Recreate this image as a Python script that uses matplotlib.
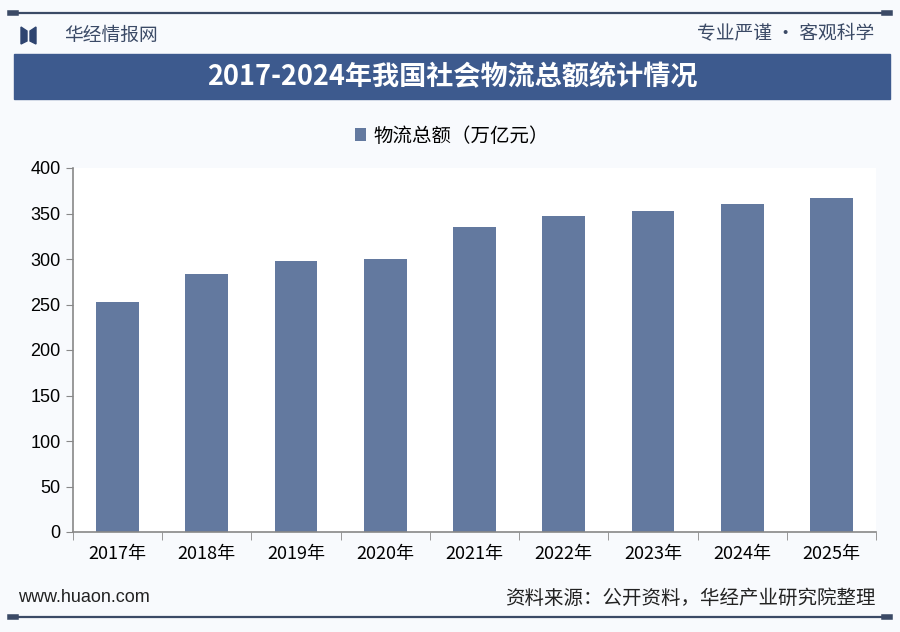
import matplotlib.pyplot as plt
from matplotlib.patches import Rectangle, Polygon
from matplotlib.lines import Line2D

plt.rcParams["font.family"] = ["Liberation Sans", "Noto Sans CJK SC", "DejaVu Sans"]

years = ["2017年", "2018年", "2019年", "2020年", "2021年", "2022年", "2023年", "2024年", "2025年"]
values = [252.8, 283.1, 298.0, 300.1, 335.2, 347.6, 352.4, 360.6, 367.0]
series_name = "物流总额（万亿元）"
title = "2017-2024年我国社会物流总额统计情况"

W, H = 900, 632
bar_color = "#63799f"
dark_blue = "#3d5a8e"
cjk = ["Noto Sans CJK SC", "DejaVu Sans"]


def fx(x):
    return x / W


def fy(y):
    return 1 - y / H


fig = plt.figure(figsize=(9, 6.32), dpi=100)
fig.patch.set_facecolor("#f8fafd")

# top and bottom rules
for yy in (13, 617):
    fig.add_artist(Line2D([fx(12), fx(888)], [fy(yy), fy(yy)], color="#3b4a66", lw=1.6))
    fig.add_artist(Line2D([fx(10), fx(16)], [fy(yy), fy(yy)], color="#3b4a66", lw=4))
    fig.add_artist(Line2D([fx(884), fx(890)], [fy(yy), fy(yy)], color="#3b4a66", lw=4))

# logo
fig.add_artist(Polygon([(fx(21), fy(27)), (fx(27), fy(31)), (fx(27), fy(41)), (fx(21), fy(44))],
                       closed=True, color="#2e4470"))
fig.add_artist(Polygon([(fx(36), fy(27)), (fx(30), fy(31)), (fx(30), fy(41)), (fx(36), fy(44))],
                       closed=True, color="#2e4470"))
fig.text(fx(64), fy(35), "华经情报网", family=cjk, fontsize=13.5, color="#3b4a66", va="center")
fig.text(fx(874), fy(34), "专业严谨 • 客观科学", family=cjk, fontsize=13.5, color="#3b4a66",
         va="center", ha="right")

# title bar
fig.add_artist(Rectangle((fx(14), fy(99)), fx(876), 45 / H, color=dark_blue))
fig.text(fx(452), fy(77), title, family=cjk, fontsize=19.5, fontweight="bold", color="white",
         ha="center", va="center")

# plot area
ax = fig.add_axes([fx(73), fy(532), fx(803), 364 / H])
ax.set_facecolor("white")
x = range(len(years))
bars = ax.bar(x, values, width=0.48, color=bar_color, label=series_name)
ax.set_xlim(-0.5, len(years) - 0.5)
ax.set_ylim(0, 400)
ax.set_yticks(range(0, 401, 50))
ax.set_xticks(list(x))
ax.set_xticklabels(years, family=cjk)
ax.set_xticks([i + 0.5 for i in range(-1, len(years))], minor=True)
ax.tick_params(axis="x", which="major", length=0, pad=9, labelsize=13)
ax.tick_params(axis="x", which="minor", length=6, color="#888888", direction="out")
ax.tick_params(axis="y", length=5, color="#888888", labelsize=13, pad=4)
for s in ("top", "right"):
    ax.spines[s].set_visible(False)
for s in ("left", "bottom"):
    ax.spines[s].set_color("#888888")
    ax.spines[s].set_linewidth(1.2)

leg = fig.legend(handles=[bars], labels=[series_name], loc="center", bbox_to_anchor=(fx(452), fy(136)),
                 frameon=False, prop={"family": cjk, "size": 14}, handlelength=0.6, handleheight=0.6,
                 handletextpad=0.4)

# footer
fig.text(fx(18), fy(598), "www.huaon.com", fontsize=13, color="#222222", va="center")
fig.text(fx(876), fy(598), "资料来源：公开资料，华经产业研究院整理", family=cjk, fontsize=14,
         color="#222222", va="center", ha="right")

fig.savefig("out.png", dpi=100, facecolor=fig.get_facecolor())
